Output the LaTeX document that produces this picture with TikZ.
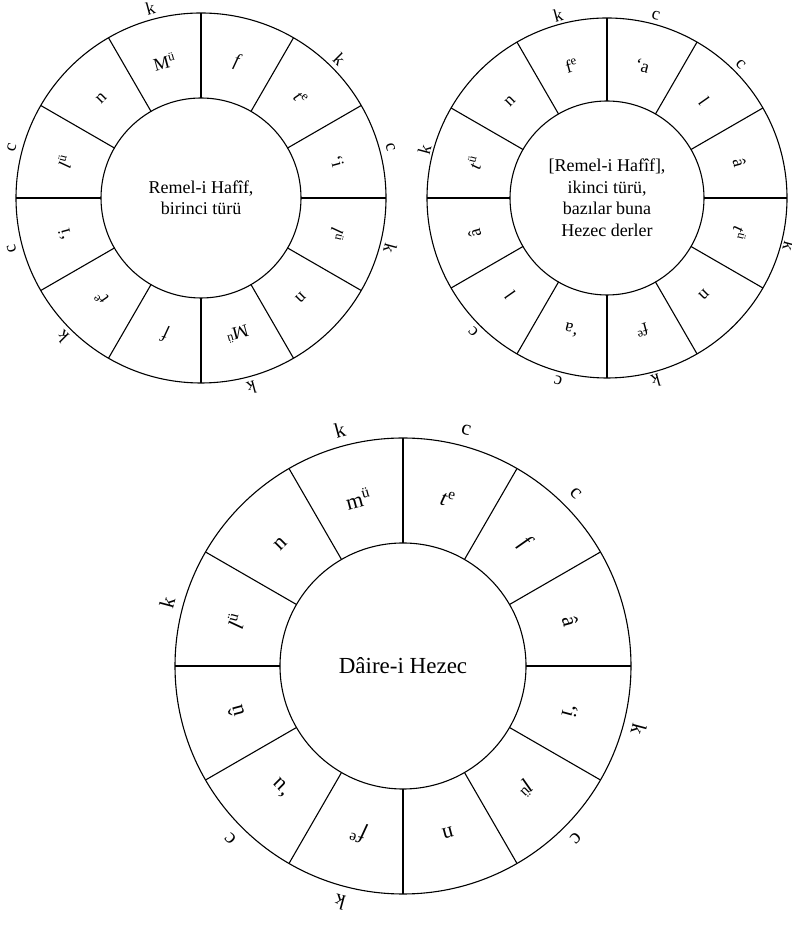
\documentclass[tikz,border=0pt]{standalone}
\usepackage{fontspec}
\setmainfont{Liberation Serif}
\usetikzlibrary{positioning}
\newcommand{\up}[1]{\textsuperscript{#1}}

\begin{document}
\begin{tikzpicture}[x=1pt, y=1pt,
    rim/.style={circle, draw, line width=1.1pt, inner sep=0pt, outer sep=0pt, minimum size=#1},
    hub/.style={circle, draw, line width=1.1pt, inner sep=0pt, outer sep=0pt, minimum size=#1,
                align=center, fill=white},
    spoke/.style={line width=1.1pt},
    syl/.style={inner sep=0pt, font=\fontsize{#1}{#1}\selectfont},
    beat/.style={inner sep=0pt, font=\fontsize{#1}{#1}\selectfont}
]
\useasboundingbox (0,0) rectangle (792,932);

%% Remel-i Hafif, first kind (top left)
\begin{scope}[shift={(201,734)}]
\node[rim=370pt] (rimA) at (0,0) {};
\node[hub=200pt, font=\fontsize{18pt}{21pt}\selectfont] (hubA) at (0,0) {Remel-i Hafîf,\\birinci türü};
\foreach \a in {0,30,...,330}
  \draw[spoke] (hubA.\a) -- (rimA.\a);
\foreach \a/\t [count=\i] in {105/M\up{ü}, 75/\textit{f}, 45/\textit{t}\up{e}, 15/\textquoteleft i,
    -15/\textit{l}\up{ü}, -45/n, -75/M\up{ü}, -105/\textit{f}, -135/\textit{t}\up{e},
    -165/\textquoteleft i, 165/\textit{l}\up{ü}, 135/n}
  \node[syl=18pt, rotate=\a-90] (sylA\i) at (\a:141pt) {\t};
\foreach \a/\t [count=\i] in {105/k, 45/k, 15/c, -15/k, -75/k, -135/k, -165/c, 165/c}
  \node[beat=18pt, rotate=\a-90] (beatA\i) at (\a:196pt) {\t};
\end{scope}

%% Remel-i Hafif, second kind (top right)
\begin{scope}[shift={(607,734)}]
\node[rim=360pt] (rimB) at (0,0) {};
\node[hub=194pt, font=\fontsize{18pt}{21.5pt}\selectfont] (hubB) at (0,0)
  {[Remel-i Hafîf],\\ikinci türü,\\bazılar buna\\Hezec derler};
\foreach \a in {0,30,...,330}
  \draw[spoke] (hubB.\a) -- (rimB.\a);
\foreach \a/\t [count=\i] in {105/f\up{e}, 75/\textquoteleft a, 45/\textit{l}, 15/â,
    -15/\textit{t}\up{ü}, -45/n, -75/f\up{e}, -105/\textquoteleft a, -135/\textit{l},
    -165/â, 165/\textit{t}\up{ü}, 135/n}
  \node[syl=18pt, rotate=\a-90] (sylB\i) at (\a:137pt) {\t};
\foreach \a/\t [count=\i] in {105/k, 75/c, 45/c, -15/k, -75/k, -105/c, -135/c, 165/k}
  \node[beat=18pt, rotate=\a-90] (beatB\i) at (\a:189pt) {\t};
\end{scope}

%% Daire-i Hezec (bottom)
\begin{scope}[shift={(403,266)}]
\node[rim=456pt] (rimC) at (0,0) {};
\node[hub=246pt, font=\fontsize{23pt}{26pt}\selectfont] (hubC) at (0,0) {Dâire-i Hezec};
\foreach \a in {0,30,...,330}
  \draw[spoke] (hubC.\a) -- (rimC.\a);
\foreach \a/\t [count=\i] in {105/m\up{ü}, 75/\textit{t}\up{e}, 45/\textit{f}, 15/â,
    -15/\textquoteleft i, -45/\textit{l}\up{ü}, -75/n, -105/\textit{f}\up{e}, -135/\textquoteleft u,
    -165/û, 165/\textit{l}\up{ü}, 135/n}
  \node[syl=22pt, rotate=\a-90] (sylC\i) at (\a:173pt) {\t};
\foreach \a/\t [count=\i] in {105/k, 75/c, 45/c, -15/k, -45/c, -105/k, -135/c, 165/k}
  \node[beat=21pt, rotate=\a-90] (beatC\i) at (\a:244pt) {\t};
\end{scope}

\end{tikzpicture}
\end{document}
